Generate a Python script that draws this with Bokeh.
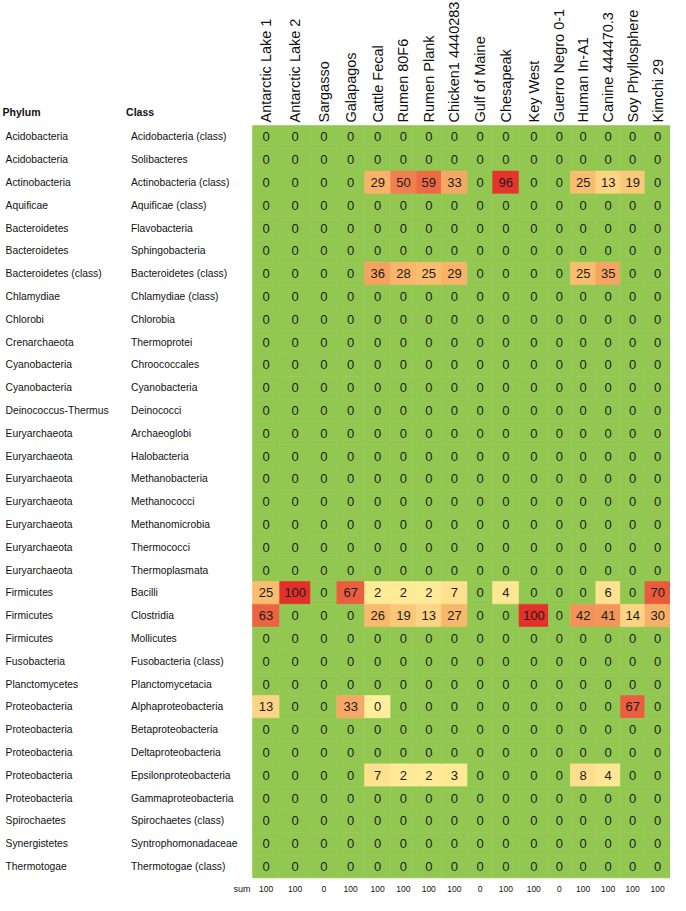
import numpy as np
from bokeh.plotting import figure
from bokeh.models import ColumnDataSource, Range1d, LinearColorMapper
from bokeh.core.properties import value
from bokeh.transform import transform
from bokeh.embed import file_html
from bokeh.resources import INLINE

# ---------------- data ----------------
samples = ["Antarctic Lake 1", "Antarctic Lake 2", "Sargasso", "Galapagos",
           "Cattle Fecal", "Rumen 80F6", "Rumen Plank", "Chicken1 4440283",
           "Gulf of Maine", "Chesapeak", "Key West", "Guerro Negro 0-1",
           "Human In-A1", "Canine 444470.3", "Soy Phyllosphere", "Kimchi 29"]

phyla = ["Acidobacteria", "Acidobacteria", "Actinobacteria", "Aquificae",
         "Bacteroidetes", "Bacteroidetes", "Bacteroidetes (class)", "Chlamydiae",
         "Chlorobi", "Crenarchaeota", "Cyanobacteria", "Cyanobacteria",
         "Deinococcus-Thermus", "Euryarchaeota", "Euryarchaeota", "Euryarchaeota",
         "Euryarchaeota", "Euryarchaeota", "Euryarchaeota", "Euryarchaeota",
         "Firmicutes", "Firmicutes", "Firmicutes", "Fusobacteria", "Planctomycetes",
         "Proteobacteria", "Proteobacteria", "Proteobacteria", "Proteobacteria",
         "Proteobacteria", "Spirochaetes", "Synergistetes", "Thermotogae"]

classes = ["Acidobacteria (class)", "Solibacteres", "Actinobacteria (class)",
           "Aquificae (class)", "Flavobacteria", "Sphingobacteria",
           "Bacteroidetes (class)", "Chlamydiae (class)", "Chlorobia", "Thermoprotei",
           "Chroococcales", "Cyanobacteria", "Deinococci", "Archaeoglobi",
           "Halobacteria", "Methanobacteria", "Methanococci", "Methanomicrobia",
           "Thermococci", "Thermoplasmata", "Bacilli", "Clostridia", "Mollicutes",
           "Fusobacteria (class)", "Planctomycetacia", "Alphaproteobacteria",
           "Betaproteobacteria", "Deltaproteobacteria", "Epsilonproteobacteria",
           "Gammaproteobacteria", "Spirochaetes (class)", "Syntrophomonadaceae",
           "Thermotogae (class)"]

# percentage of each class per sample (rows top to bottom)
antarctic_lake_1 = [0, 0, 0, 0, 0, 0, 0, 0, 0, 0, 0,
                    0, 0, 0, 0, 0, 0, 0, 0, 0, 25, 63,
                    0, 0, 0, 13, 0, 0, 0, 0, 0, 0, 0]
antarctic_lake_2 = [0, 0, 0, 0, 0, 0, 0, 0, 0, 0, 0,
                    0, 0, 0, 0, 0, 0, 0, 0, 0, 100, 0,
                    0, 0, 0, 0, 0, 0, 0, 0, 0, 0, 0]
sargasso = [0, 0, 0, 0, 0, 0, 0, 0, 0, 0, 0,
            0, 0, 0, 0, 0, 0, 0, 0, 0, 0, 0,
            0, 0, 0, 0, 0, 0, 0, 0, 0, 0, 0]
galapagos = [0, 0, 0, 0, 0, 0, 0, 0, 0, 0, 0,
             0, 0, 0, 0, 0, 0, 0, 0, 0, 67, 0,
             0, 0, 0, 33, 0, 0, 0, 0, 0, 0, 0]
cattle_fecal = [0, 0, 29, 0, 0, 0, 36, 0, 0, 0, 0,
                0, 0, 0, 0, 0, 0, 0, 0, 0, 2, 26,
                0, 0, 0, 0.4, 0, 0, 7, 0, 0, 0, 0]
rumen_80f6 = [0, 0, 50, 0, 0, 0, 28, 0, 0, 0, 0,
              0, 0, 0, 0, 0, 0, 0, 0, 0, 2, 19,
              0, 0, 0, 0, 0, 0, 2, 0, 0, 0, 0]
rumen_plank = [0, 0, 59, 0, 0, 0, 25, 0, 0, 0, 0,
               0, 0, 0, 0, 0, 0, 0, 0, 0, 2, 13,
               0, 0, 0, 0, 0, 0, 2, 0, 0, 0, 0]
chicken1 = [0, 0, 33, 0, 0, 0, 29, 0, 0, 0, 0,
            0, 0, 0, 0, 0, 0, 0, 0, 0, 7, 27,
            0, 0, 0, 0, 0, 0, 3, 0, 0, 0, 0]
gulf_of_maine = [0, 0, 0, 0, 0, 0, 0, 0, 0, 0, 0,
                 0, 0, 0, 0, 0, 0, 0, 0, 0, 0, 0,
                 0, 0, 0, 0, 0, 0, 0, 0, 0, 0, 0]
chesapeak = [0, 0, 96, 0, 0, 0, 0, 0, 0, 0, 0,
             0, 0, 0, 0, 0, 0, 0, 0, 0, 4, 0,
             0, 0, 0, 0, 0, 0, 0, 0, 0, 0, 0]
key_west = [0, 0, 0, 0, 0, 0, 0, 0, 0, 0, 0,
            0, 0, 0, 0, 0, 0, 0, 0, 0, 0, 100,
            0, 0, 0, 0, 0, 0, 0, 0, 0, 0, 0]
guerro_negro = [0, 0, 0, 0, 0, 0, 0, 0, 0, 0, 0,
                0, 0, 0, 0, 0, 0, 0, 0, 0, 0, 0,
                0, 0, 0, 0, 0, 0, 0, 0, 0, 0, 0]
human = [0, 0, 25, 0, 0, 0, 25, 0, 0, 0, 0,
         0, 0, 0, 0, 0, 0, 0, 0, 0, 0, 42,
         0, 0, 0, 0, 0, 0, 8, 0, 0, 0, 0]
canine = [0, 0, 13, 0, 0, 0, 35, 0, 0, 0, 0,
          0, 0, 0, 0, 0, 0, 0, 0, 0, 6, 41,
          0, 0, 0, 0, 0, 0, 4, 0, 0, 0, 0]
soy_phyllosphere = [0, 0, 19, 0, 0, 0, 0, 0, 0, 0, 0,
                    0, 0, 0, 0, 0, 0, 0, 0, 0, 0, 14,
                    0, 0, 0, 67, 0, 0, 0, 0, 0, 0, 0]
kimchi = [0, 0, 0, 0, 0, 0, 0, 0, 0, 0, 0,
          0, 0, 0, 0, 0, 0, 0, 0, 0, 70, 30,
          0, 0, 0, 0, 0, 0, 0, 0, 0, 0, 0]

sums = [100, 100, 0, 100, 100, 100, 100, 100, 0, 100, 100, 0, 100, 100, 100, 100]

series = [antarctic_lake_1, antarctic_lake_2, sargasso, galapagos, cattle_fecal,
          rumen_80f6, rumen_plank, chicken1, gulf_of_maine, chesapeak, key_west,
          guerro_negro, human, canine, soy_phyllosphere, kimchi]

# ---------------- layout / style ----------------
col_widths = [27.7, 31.7, 26.6, 28.4, 26.6, 26.0, 25.7, 26.7,
              25.6, 27.0, 30.0, 22.4, 26.0, 25.0, 25.0, 26.0]
W, H = 670, 895
GRID_LEFT_PX, X_SCALE = 252, 0.98
GRID_TOP_PX, ROW_PX = 125, 22.8
GREEN = "#92C851"
TEXT = "#1c1c1c"
FONT = value("Liberation Sans")

edges = np.concatenate([[0], np.cumsum(col_widths)])
centers = (edges[:-1] + edges[1:]) / 2

# colour scale for non-zero values: pale yellow -> orange -> red
anchor_v = [0, 25, 60, 100]
anchor_c = [(255, 238, 154), (249, 188, 110), (236, 104, 67), (227, 48, 42)]
steps = np.linspace(0, 100, 256)
palette = []
for s in steps:
    rgb = [int(round(np.interp(s, anchor_v, [c[k] for c in anchor_c]))) for k in range(3)]
    palette.append("#%02x%02x%02x" % tuple(rgb))
mapper = LinearColorMapper(palette=palette, low=0.1, high=100, low_color=GREEN)

left, right, top, bottom, vals, labels, xc, yc = [], [], [], [], [], [], [], []
for j, col in enumerate(series):
    for i, v in enumerate(col):
        left.append(edges[j]); right.append(edges[j + 1])
        top.append(i); bottom.append(i + 1)
        vals.append(v); labels.append(str(int(round(v))))
        xc.append(centers[j]); yc.append(i + 0.5)
cells = ColumnDataSource(dict(left=left, right=right, top=top, bottom=bottom,
                              v=vals, label=labels, xc=xc, yc=yc))

p = figure(width=W, height=H,
           x_range=Range1d(-GRID_LEFT_PX / X_SCALE, (W - GRID_LEFT_PX) / X_SCALE),
           y_range=Range1d((H - GRID_TOP_PX) / ROW_PX, -GRID_TOP_PX / ROW_PX),
           x_axis_location=None, y_axis_location=None,
           toolbar_location=None, output_backend="svg", min_border=0)
p.grid.visible = False
p.outline_line_color = None
p.background_fill_color = "white"
p.border_fill_color = "white"

p.quad(left="left", right="right", top="top", bottom="bottom", source=cells,
       fill_color=transform("v", mapper), line_color=transform("v", mapper),
       line_width=0.6)
p.text(x="xc", y="yc", text="label", source=cells, text_align="center",
       text_baseline="middle", text_font=FONT, text_font_size="13px",
       text_color=TEXT)

# column headers (rotated)
p.text(x=list(centers), y=[-0.13] * len(samples), text=samples, angle=np.pi / 2,
       text_align="left", text_baseline="middle", text_font=FONT,
       text_font_size="14.5px", text_color="#111111")

# row labels
rows_y = [i + 0.5 for i in range(len(classes))]
p.text(x=[-252] * len(phyla), y=rows_y, text=phyla, text_align="left",
       text_baseline="middle", text_font=FONT, text_font_size="10.3px",
       text_color="#111111")
p.text(x=[-124] * len(classes), y=rows_y, text=classes, text_align="left",
       text_baseline="middle", text_font=FONT, text_font_size="10.3px",
       text_color="#111111")
p.text(x=[-255, -129], y=[-0.6, -0.6], text=["Phylum", "Class"], text_align="left",
       text_baseline="middle", text_font=FONT, text_font_size="10.5px",
       text_font_style="bold", text_color="#111111")

# sum row
n = len(classes)
p.text(x=list(centers), y=[n + 0.48] * len(sums), text=[str(s) for s in sums],
       text_align="center", text_baseline="middle", text_font=FONT,
       text_font_size="8.5px", text_color="#111111")
p.text(x=[-2], y=[n + 0.48], text=["sum"], text_align="right",
       text_baseline="middle", text_font=FONT, text_font_size="9px",
       text_color="#111111")

open("out.html", "w").write(file_html(p, INLINE))
